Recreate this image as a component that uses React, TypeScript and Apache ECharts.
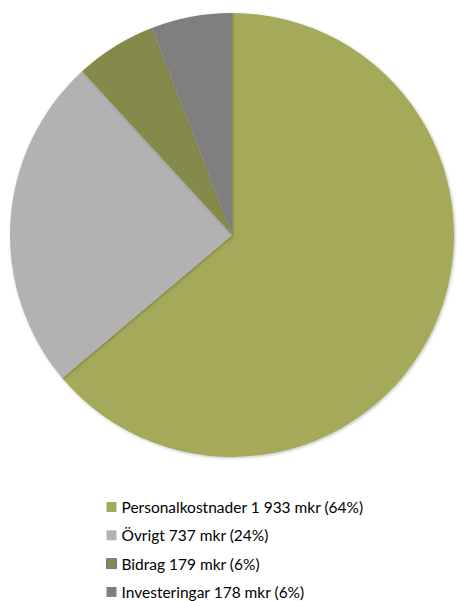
import React, { useEffect, useRef } from "react";
import * as echarts from "echarts";

const categories = ["Personalkostnader", "Övrigt", "Bidrag", "Investeringar"];
const values = [1933, 737, 179, 178];
const valueLabels = ["1 933", "737", "179", "178"];
const percents = [64, 24, 6, 6];
const colors = ["#a5a95a", "#b2b2b2", "#858a4b", "#7f7f7f"];

export default function App() {
  const ref = useRef<HTMLDivElement>(null);
  useEffect(() => {
    const chart = echarts.init(ref.current!, undefined, { renderer: "svg" });
    chart.setOption({
      animation: false,
      legend: {
        orient: "vertical",
        left: 106,
        top: 499,
        height: 102,
        padding: 0,
        itemWidth: 10,
        itemHeight: 10,
        itemGap: 12.3,
        icon: "rect",
        textStyle: { fontFamily: "Lato", fontSize: 15.5, color: "#000", lineHeight: 15 },
        data: categories.map((c, i) =>
          i === 2
            ? { name: c, itemStyle: { borderColor: "#4f81bd", borderWidth: 1 } }
            : { name: c }
        ),
        formatter: (name: string) => {
          const i = categories.indexOf(name);
          return `${name} ${valueLabels[i]} mkr (${percents[i]}%)`;
        },
      },
      series: [
        {
          type: "pie",
          center: [232, 235],
          radius: [0, 222],
          startAngle: 90,
          clockwise: true,
          label: { show: false },
          labelLine: { show: false },
          emphasis: { disabled: true },
          itemStyle: { shadowBlur: 3, shadowColor: "rgba(0,0,0,0.25)", shadowOffsetX: 1, shadowOffsetY: 1 },
          data: categories.map((c, i) => ({ name: c, value: values[i], itemStyle: { color: colors[i] } })),
        },
      ],
    });
    return () => chart.dispose();
  }, []);
  return <div ref={ref} style={{ width: 457, height: 601, position: "absolute", left: 0, top: 0 }} />;
}
